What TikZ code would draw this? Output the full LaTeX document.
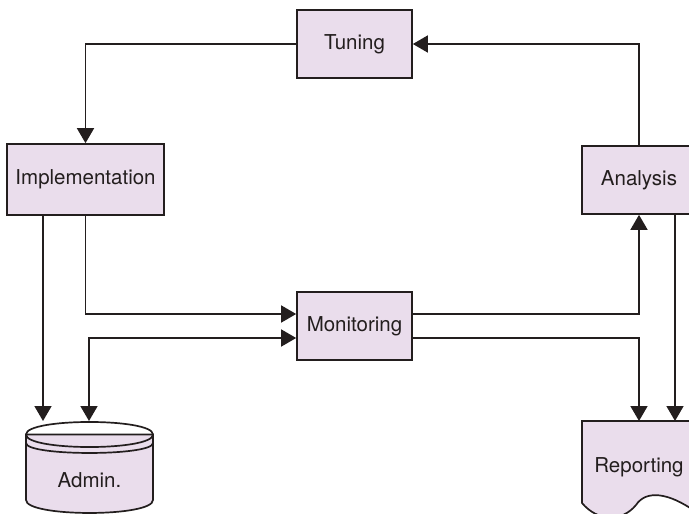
\documentclass[tikz,border=0pt]{standalone}
\usepackage{fontspec}
\setmainfont{TeX Gyre Heros}
\usetikzlibrary{arrows.meta}

\definecolor{boxc}{RGB}{234,221,236}
\definecolor{linec}{RGB}{35,30,30}

\begin{document}
\begin{tikzpicture}[x=1pt, y=-1pt,
  every node/.style={font=\fontsize{20.5}{24}\selectfont, text=linec},
  stage/.style={draw=linec, fill=boxc, line width=1.7pt, minimum width=115pt, minimum height=68pt},
  lbl/.style={inner sep=0pt},
  arrowline/.style={draw=linec, line width=1.7pt, -{Triangle[length=15pt,width=17pt]}},
  arrowboth/.style={draw=linec, line width=1.7pt, {Triangle[length=15pt,width=17pt]}-{Triangle[length=15pt,width=17pt]}}]
  \useasboundingbox (0,0) rectangle (689,514);
  \clip (0,0) rectangle (689,514);

  % Admin. store
  \filldraw[draw=linec, fill=boxc, line width=1.7pt] (26,434.5) -- (26,500) .. controls (26,517.3) and (153,517.3) .. (153,500) -- (153,434.5) -- cycle;
  \draw[line width=1.7pt, draw=linec] (26,434.5) .. controls (26,417.8) and (153,417.8) .. (153,434.5) .. controls (153,451.2) and (26,451.2) .. (26,434.5);
  \draw[line width=1.7pt, draw=linec] (26,443) .. controls (26,456.3) and (153,456.3) .. (153,443);
  % Reporting document
  \filldraw[draw=linec, fill=boxc, line width=1.7pt] (582,421) -- (582,503) .. controls (598,522) and (622,522) .. (636,505) .. controls (646,490) and (668,492) .. (696,512) -- (696,421) -- cycle;

  \node[stage] (tuning) at (354.5,44) {Tuning};
  \node[stage, minimum width=157pt, minimum height=71pt] (impl) at (85.5,179.5) {Implementation};
  \node[stage, minimum width=114pt] (analysis) at (639,180) {Analysis};
  \node[stage] (mon) at (354.5,326) {Monitoring};
  \node[lbl] (admin) at (89.5,480) {Admin.};
  \node[lbl] (report) at (639,467) {Reporting};

  \coordinate (adminL) at (43,421);
  \coordinate (adminR) at (89,421);
  \coordinate (repL) at (639,421);
  \coordinate (repR) at (675,421);

  \draw[arrowline] (analysis.north) |- (tuning.east);
  \draw[arrowline] (tuning.west) -| (impl.north);
  \draw[arrowline] (impl.south -| adminL) -- (adminL);
  \draw[arrowline] (impl.south) |- ([yshift=12pt]mon.west);
  \draw[arrowboth] (adminR) |- ([yshift=-12pt]mon.west);
  \draw[arrowline] ([yshift=12pt]mon.east) -| (analysis.south);
  \draw[arrowline] ([yshift=-12pt]mon.east) -| (repL);
  \draw[arrowline] (analysis.south -| repR) -- (repR);
\end{tikzpicture}
\end{document}
